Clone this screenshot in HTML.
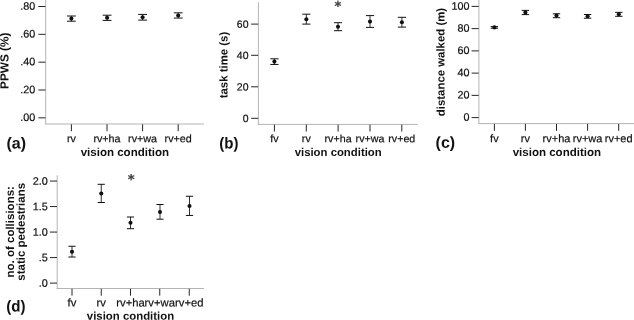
<!DOCTYPE html>
<html lang="en"><head><meta charset="utf-8"><title>vision condition plots</title>
<style>
html,body{margin:0;padding:0;background:#fff;}
body{width:634px;height:320px;overflow:hidden;}
svg{display:block;font-family:"Liberation Sans",sans-serif;text-rendering:geometricPrecision;}
</style></head><body>
<svg width="634" height="320" viewBox="0 0 634 320">
<rect x="0" y="0" width="634" height="320" fill="#fff"/>
<line x1="45.7" y1="0" x2="45.7" y2="124.5" stroke="#b4b4b4" stroke-width="1"/>
<line x1="45.2" y1="124" x2="203.9" y2="124" stroke="#b4b4b4" stroke-width="1"/>
<line x1="38.4" y1="6.5" x2="45.5" y2="6.5" stroke="#262626" stroke-width="1"/>
<text x="35.3" y="9.65" font-size="10.8" text-anchor="end" fill="#111" stroke="#111" stroke-width="0.2" transform="rotate(0.04 35.3 9.65)">.80</text>
<line x1="38.4" y1="34.34" x2="45.5" y2="34.34" stroke="#262626" stroke-width="1"/>
<text x="35.3" y="37.49" font-size="10.8" text-anchor="end" fill="#111" stroke="#111" stroke-width="0.2" transform="rotate(0.04 35.3 37.49)">.60</text>
<line x1="38.4" y1="62.18" x2="45.5" y2="62.18" stroke="#262626" stroke-width="1"/>
<text x="35.3" y="65.33" font-size="10.8" text-anchor="end" fill="#111" stroke="#111" stroke-width="0.2" transform="rotate(0.04 35.3 65.33)">.40</text>
<line x1="38.4" y1="90" x2="45.5" y2="90" stroke="#262626" stroke-width="1"/>
<text x="35.3" y="93.15" font-size="10.8" text-anchor="end" fill="#111" stroke="#111" stroke-width="0.2" transform="rotate(0.04 35.3 93.15)">.20</text>
<line x1="38.4" y1="117.85" x2="45.5" y2="117.85" stroke="#262626" stroke-width="1"/>
<text x="35.3" y="121" font-size="10.8" text-anchor="end" fill="#111" stroke="#111" stroke-width="0.2" transform="rotate(0.04 35.3 121)">.00</text>
<line x1="71.4" y1="124.3" x2="71.4" y2="131.2" stroke="#262626" stroke-width="1"/>
<text x="71.4" y="142.35" font-size="10.75" text-anchor="middle" fill="#111" stroke="#111" stroke-width="0.2" transform="rotate(0.04 71.4 142.35)">rv</text>
<line x1="107" y1="124.3" x2="107" y2="131.2" stroke="#262626" stroke-width="1"/>
<text x="107" y="142.35" font-size="10.75" text-anchor="middle" fill="#111" stroke="#111" stroke-width="0.2" transform="rotate(0.04 107 142.35)">rv+ha</text>
<line x1="142.6" y1="124.3" x2="142.6" y2="131.2" stroke="#262626" stroke-width="1"/>
<text x="142.6" y="142.35" font-size="10.75" text-anchor="middle" fill="#111" stroke="#111" stroke-width="0.2" transform="rotate(0.04 142.6 142.35)">rv+wa</text>
<line x1="178.2" y1="124.3" x2="178.2" y2="131.2" stroke="#262626" stroke-width="1"/>
<text x="178.2" y="142.35" font-size="10.75" text-anchor="middle" fill="#111" stroke="#111" stroke-width="0.2" transform="rotate(0.04 178.2 142.35)">rv+ed</text>
<text x="124.9" y="156.05" font-size="11.55" text-anchor="middle" fill="#111" font-weight="bold" transform="rotate(0.04 124.9 156.05)">vision condition</text>
<text x="8.4" y="60.8" font-size="11.8" text-anchor="middle" fill="#111" font-weight="bold" transform="rotate(-90.04 8.4 60.8)">PPWS (%)</text>
<text x="6.5" y="148.5" font-size="16" text-anchor="start" fill="#111" font-weight="bold" transform="rotate(0.04 6.5 148.5)">(a)</text>
<line x1="71.4" y1="16" x2="71.4" y2="21.2" stroke="#1a1a1a" stroke-width="0.9"/>
<line x1="67" y1="16" x2="75.8" y2="16" stroke="#111" stroke-width="1"/>
<line x1="67" y1="21.2" x2="75.8" y2="21.2" stroke="#111" stroke-width="1"/>
<circle cx="71.4" cy="18.6" r="2.05" fill="#111"/>
<line x1="107.1" y1="15.2" x2="107.1" y2="20.4" stroke="#1a1a1a" stroke-width="0.9"/>
<line x1="102.7" y1="15.2" x2="111.5" y2="15.2" stroke="#111" stroke-width="1"/>
<line x1="102.7" y1="20.4" x2="111.5" y2="20.4" stroke="#111" stroke-width="1"/>
<circle cx="107.1" cy="17.8" r="2.05" fill="#111"/>
<line x1="142.6" y1="14.4" x2="142.6" y2="20.1" stroke="#1a1a1a" stroke-width="0.9"/>
<line x1="138.2" y1="14.4" x2="147" y2="14.4" stroke="#111" stroke-width="1"/>
<line x1="138.2" y1="20.1" x2="147" y2="20.1" stroke="#111" stroke-width="1"/>
<circle cx="142.6" cy="17.2" r="2.05" fill="#111"/>
<line x1="178.2" y1="12.85" x2="178.2" y2="18.05" stroke="#1a1a1a" stroke-width="0.9"/>
<line x1="173.8" y1="12.85" x2="182.6" y2="12.85" stroke="#111" stroke-width="1"/>
<line x1="173.8" y1="18.05" x2="182.6" y2="18.05" stroke="#111" stroke-width="1"/>
<circle cx="178.2" cy="15.45" r="2.05" fill="#111"/>
<line x1="258.4" y1="2.2" x2="258.4" y2="124.9" stroke="#b4b4b4" stroke-width="1"/>
<line x1="257.9" y1="124.4" x2="417.8" y2="124.4" stroke="#b4b4b4" stroke-width="1"/>
<line x1="251.1" y1="24.1" x2="258.2" y2="24.1" stroke="#262626" stroke-width="1"/>
<text x="248.5" y="27.8" font-size="10.5" text-anchor="end" fill="#111" stroke="#111" stroke-width="0.2" transform="rotate(0.04 248.5 27.8)">60</text>
<line x1="251.1" y1="55.3" x2="258.2" y2="55.3" stroke="#262626" stroke-width="1"/>
<text x="248.5" y="59" font-size="10.5" text-anchor="end" fill="#111" stroke="#111" stroke-width="0.2" transform="rotate(0.04 248.5 59)">40</text>
<line x1="251.1" y1="86.8" x2="258.2" y2="86.8" stroke="#262626" stroke-width="1"/>
<text x="248.5" y="90.5" font-size="10.5" text-anchor="end" fill="#111" stroke="#111" stroke-width="0.2" transform="rotate(0.04 248.5 90.5)">20</text>
<line x1="251.1" y1="118.3" x2="258.2" y2="118.3" stroke="#262626" stroke-width="1"/>
<text x="248.5" y="122" font-size="10.5" text-anchor="end" fill="#111" stroke="#111" stroke-width="0.2" transform="rotate(0.04 248.5 122)">0</text>
<line x1="274.4" y1="124.7" x2="274.4" y2="131.6" stroke="#262626" stroke-width="1"/>
<text x="274.4" y="142.35" font-size="10.7" text-anchor="middle" fill="#111" stroke="#111" stroke-width="0.2" transform="rotate(0.04 274.4 142.35)">fv</text>
<line x1="306.3" y1="124.7" x2="306.3" y2="131.6" stroke="#262626" stroke-width="1"/>
<text x="306.3" y="142.35" font-size="10.7" text-anchor="middle" fill="#111" stroke="#111" stroke-width="0.2" transform="rotate(0.04 306.3 142.35)">rv</text>
<line x1="338.1" y1="124.7" x2="338.1" y2="131.6" stroke="#262626" stroke-width="1"/>
<text x="338.1" y="142.35" font-size="10.7" text-anchor="middle" fill="#111" stroke="#111" stroke-width="0.2" transform="rotate(0.04 338.1 142.35)">rv+ha</text>
<line x1="370" y1="124.7" x2="370" y2="131.6" stroke="#262626" stroke-width="1"/>
<text x="370" y="142.35" font-size="10.7" text-anchor="middle" fill="#111" stroke="#111" stroke-width="0.2" transform="rotate(0.04 370 142.35)">rv+wa</text>
<line x1="401.8" y1="124.7" x2="401.8" y2="131.6" stroke="#262626" stroke-width="1"/>
<text x="401.8" y="142.35" font-size="10.7" text-anchor="middle" fill="#111" stroke="#111" stroke-width="0.2" transform="rotate(0.04 401.8 142.35)">rv+ed</text>
<text x="338.2" y="156.1" font-size="11.35" text-anchor="middle" fill="#111" font-weight="bold" transform="rotate(0.04 338.2 156.1)">vision condition</text>
<text x="227.4" y="65.05" font-size="11.4" text-anchor="middle" fill="#111" font-weight="bold" transform="rotate(-90.04 227.4 65.05)">task time (s)</text>
<text x="219.3" y="148.4" font-size="16" text-anchor="start" fill="#111" font-weight="bold" textLength="19.2" lengthAdjust="spacingAndGlyphs" transform="rotate(0.04 219.3 148.4)">(b)</text>
<line x1="274.4" y1="58.8" x2="274.4" y2="64.45" stroke="#1a1a1a" stroke-width="0.9"/>
<line x1="270.3" y1="58.8" x2="278.5" y2="58.8" stroke="#111" stroke-width="1"/>
<line x1="270.3" y1="64.45" x2="278.5" y2="64.45" stroke="#111" stroke-width="1"/>
<circle cx="274.4" cy="61.6" r="2.05" fill="#111"/>
<line x1="306.35" y1="14.2" x2="306.35" y2="24.1" stroke="#1a1a1a" stroke-width="0.9"/>
<line x1="302.25" y1="14.2" x2="310.45" y2="14.2" stroke="#111" stroke-width="1"/>
<line x1="302.25" y1="24.1" x2="310.45" y2="24.1" stroke="#111" stroke-width="1"/>
<circle cx="306.35" cy="19.25" r="2.05" fill="#111"/>
<line x1="338" y1="22.7" x2="338" y2="30.7" stroke="#1a1a1a" stroke-width="0.9"/>
<line x1="333.9" y1="22.7" x2="342.1" y2="22.7" stroke="#111" stroke-width="1"/>
<line x1="333.9" y1="30.7" x2="342.1" y2="30.7" stroke="#111" stroke-width="1"/>
<circle cx="338.0" cy="26.7" r="2.05" fill="#111"/>
<line x1="370" y1="15.6" x2="370" y2="27.4" stroke="#1a1a1a" stroke-width="0.9"/>
<line x1="365.9" y1="15.6" x2="374.1" y2="15.6" stroke="#111" stroke-width="1"/>
<line x1="365.9" y1="27.4" x2="374.1" y2="27.4" stroke="#111" stroke-width="1"/>
<circle cx="370" cy="21.6" r="2.05" fill="#111"/>
<line x1="401.9" y1="17.3" x2="401.9" y2="27.1" stroke="#1a1a1a" stroke-width="0.9"/>
<line x1="397.8" y1="17.3" x2="406" y2="17.3" stroke="#111" stroke-width="1"/>
<line x1="397.8" y1="27.1" x2="406" y2="27.1" stroke="#111" stroke-width="1"/>
<circle cx="401.9" cy="22.3" r="2.05" fill="#111"/>
<text x="337.9" y="10.5" font-size="13" text-anchor="middle" fill="#444" stroke="#444" stroke-width="0.3" font-family="DejaVu Sans, sans-serif" font-weight="bold" transform="rotate(0.04 337.9 10.5)">*</text>
<line x1="478.9" y1="0" x2="478.9" y2="124.1" stroke="#b4b4b4" stroke-width="1"/>
<line x1="478.4" y1="123.6" x2="634" y2="123.6" stroke="#b4b4b4" stroke-width="1"/>
<line x1="471.6" y1="6.4" x2="478.7" y2="6.4" stroke="#262626" stroke-width="1"/>
<text x="469.6" y="9.65" font-size="10.8" text-anchor="end" fill="#111" stroke="#111" stroke-width="0.2" transform="rotate(0.04 469.6 9.65)">100</text>
<line x1="471.6" y1="28.64" x2="478.7" y2="28.64" stroke="#262626" stroke-width="1"/>
<text x="469.6" y="31.89" font-size="10.8" text-anchor="end" fill="#111" stroke="#111" stroke-width="0.2" transform="rotate(0.04 469.6 31.89)">80</text>
<line x1="471.6" y1="50.88" x2="478.7" y2="50.88" stroke="#262626" stroke-width="1"/>
<text x="469.6" y="54.13" font-size="10.8" text-anchor="end" fill="#111" stroke="#111" stroke-width="0.2" transform="rotate(0.04 469.6 54.13)">60</text>
<line x1="471.6" y1="73.12" x2="478.7" y2="73.12" stroke="#262626" stroke-width="1"/>
<text x="469.6" y="76.37" font-size="10.8" text-anchor="end" fill="#111" stroke="#111" stroke-width="0.2" transform="rotate(0.04 469.6 76.37)">40</text>
<line x1="471.6" y1="95.36" x2="478.7" y2="95.36" stroke="#262626" stroke-width="1"/>
<text x="469.6" y="98.61" font-size="10.8" text-anchor="end" fill="#111" stroke="#111" stroke-width="0.2" transform="rotate(0.04 469.6 98.61)">20</text>
<line x1="471.6" y1="117.6" x2="478.7" y2="117.6" stroke="#262626" stroke-width="1"/>
<text x="469.6" y="120.85" font-size="10.8" text-anchor="end" fill="#111" stroke="#111" stroke-width="0.2" transform="rotate(0.04 469.6 120.85)">0</text>
<line x1="494.4" y1="123.9" x2="494.4" y2="130.8" stroke="#262626" stroke-width="1"/>
<text x="494.4" y="142.35" font-size="11.0" text-anchor="middle" fill="#111" stroke="#111" stroke-width="0.2" transform="rotate(0.04 494.4 142.35)">fv</text>
<line x1="525.4" y1="123.9" x2="525.4" y2="130.8" stroke="#262626" stroke-width="1"/>
<text x="525.4" y="142.35" font-size="11.0" text-anchor="middle" fill="#111" stroke="#111" stroke-width="0.2" transform="rotate(0.04 525.4 142.35)">rv</text>
<line x1="556.5" y1="123.9" x2="556.5" y2="130.8" stroke="#262626" stroke-width="1"/>
<text x="556.5" y="142.35" font-size="11.0" text-anchor="middle" fill="#111" stroke="#111" stroke-width="0.2" transform="rotate(0.04 556.5 142.35)">rv+ha</text>
<line x1="587.6" y1="123.9" x2="587.6" y2="130.8" stroke="#262626" stroke-width="1"/>
<text x="587.6" y="142.35" font-size="11.0" text-anchor="middle" fill="#111" stroke="#111" stroke-width="0.2" transform="rotate(0.04 587.6 142.35)">rv+wa</text>
<line x1="618.7" y1="123.9" x2="618.7" y2="130.8" stroke="#262626" stroke-width="1"/>
<text x="618.7" y="142.35" font-size="11.0" text-anchor="middle" fill="#111" stroke="#111" stroke-width="0.2" transform="rotate(0.04 618.7 142.35)">rv+ed</text>
<text x="556.9" y="156.1" font-size="11.55" text-anchor="middle" fill="#111" font-weight="bold" transform="rotate(0.04 556.9 156.1)">vision condition</text>
<text x="444.6" y="62" font-size="11.4" text-anchor="middle" fill="#111" font-weight="bold" transform="rotate(-90.04 444.6 62)">distance walked (m)</text>
<text x="435.6" y="147.7" font-size="16" text-anchor="start" fill="#111" font-weight="bold" transform="rotate(0.04 435.6 147.7)">(c)</text>
<line x1="494.4" y1="26.6" x2="494.4" y2="28.2" stroke="#1a1a1a" stroke-width="0.9"/>
<line x1="490.7" y1="26.6" x2="498.1" y2="26.6" stroke="#111" stroke-width="1"/>
<line x1="490.7" y1="28.2" x2="498.1" y2="28.2" stroke="#111" stroke-width="1"/>
<circle cx="494.4" cy="27.4" r="2.05" fill="#111"/>
<line x1="525.4" y1="10.4" x2="525.4" y2="14.6" stroke="#1a1a1a" stroke-width="0.9"/>
<line x1="521.7" y1="10.4" x2="529.1" y2="10.4" stroke="#111" stroke-width="1"/>
<line x1="521.7" y1="14.6" x2="529.1" y2="14.6" stroke="#111" stroke-width="1"/>
<circle cx="525.4" cy="12.5" r="2.05" fill="#111"/>
<line x1="556.5" y1="13.8" x2="556.5" y2="17.7" stroke="#1a1a1a" stroke-width="0.9"/>
<line x1="552.8" y1="13.8" x2="560.2" y2="13.8" stroke="#111" stroke-width="1"/>
<line x1="552.8" y1="17.7" x2="560.2" y2="17.7" stroke="#111" stroke-width="1"/>
<circle cx="556.5" cy="15.6" r="2.05" fill="#111"/>
<line x1="587.6" y1="14.5" x2="587.6" y2="18.2" stroke="#1a1a1a" stroke-width="0.9"/>
<line x1="583.9" y1="14.5" x2="591.3" y2="14.5" stroke="#111" stroke-width="1"/>
<line x1="583.9" y1="18.2" x2="591.3" y2="18.2" stroke="#111" stroke-width="1"/>
<circle cx="587.6" cy="16.3" r="2.05" fill="#111"/>
<line x1="618.8" y1="12.35" x2="618.8" y2="16.3" stroke="#1a1a1a" stroke-width="0.9"/>
<line x1="615.1" y1="12.35" x2="622.5" y2="12.35" stroke="#111" stroke-width="1"/>
<line x1="615.1" y1="16.3" x2="622.5" y2="16.3" stroke="#111" stroke-width="1"/>
<circle cx="618.8" cy="14.2" r="2.05" fill="#111"/>
<line x1="57.2" y1="175.3" x2="57.2" y2="289" stroke="#b4b4b4" stroke-width="1"/>
<line x1="56.7" y1="288.5" x2="203.9" y2="288.5" stroke="#b4b4b4" stroke-width="1"/>
<line x1="49.9" y1="181.05" x2="57" y2="181.05" stroke="#262626" stroke-width="1"/>
<text x="47.9" y="184.75" font-size="10.85" text-anchor="end" fill="#111" stroke="#111" stroke-width="0.2" transform="rotate(0.04 47.9 184.75)">2.0</text>
<line x1="49.9" y1="206.56" x2="57" y2="206.56" stroke="#262626" stroke-width="1"/>
<text x="47.9" y="210.26" font-size="10.85" text-anchor="end" fill="#111" stroke="#111" stroke-width="0.2" transform="rotate(0.04 47.9 210.26)">1.5</text>
<line x1="49.9" y1="232.07" x2="57" y2="232.07" stroke="#262626" stroke-width="1"/>
<text x="47.9" y="235.77" font-size="10.85" text-anchor="end" fill="#111" stroke="#111" stroke-width="0.2" transform="rotate(0.04 47.9 235.77)">1.0</text>
<line x1="49.9" y1="257.59" x2="57" y2="257.59" stroke="#262626" stroke-width="1"/>
<text x="47.9" y="261.29" font-size="10.85" text-anchor="end" fill="#111" stroke="#111" stroke-width="0.2" transform="rotate(0.04 47.9 261.29)">.5</text>
<line x1="49.9" y1="283.1" x2="57" y2="283.1" stroke="#262626" stroke-width="1"/>
<text x="47.9" y="286.8" font-size="10.85" text-anchor="end" fill="#111" stroke="#111" stroke-width="0.2" transform="rotate(0.04 47.9 286.8)">.0</text>
<line x1="72" y1="288.8" x2="72" y2="295.7" stroke="#262626" stroke-width="1"/>
<text x="72" y="306.6" font-size="11.25" text-anchor="middle" fill="#111" stroke="#111" stroke-width="0.2" transform="rotate(0.04 72 306.6)">fv</text>
<line x1="101.25" y1="288.8" x2="101.25" y2="295.7" stroke="#262626" stroke-width="1"/>
<text x="101.25" y="306.6" font-size="11.25" text-anchor="middle" fill="#111" stroke="#111" stroke-width="0.2" transform="rotate(0.04 101.25 306.6)">rv</text>
<line x1="130.5" y1="288.8" x2="130.5" y2="295.7" stroke="#262626" stroke-width="1"/>
<text x="130.5" y="306.6" font-size="11.25" text-anchor="middle" fill="#111" stroke="#111" stroke-width="0.2" transform="rotate(0.04 130.5 306.6)">rv+ha</text>
<line x1="159.75" y1="288.8" x2="159.75" y2="295.7" stroke="#262626" stroke-width="1"/>
<text x="159.75" y="306.6" font-size="11.25" text-anchor="middle" fill="#111" stroke="#111" stroke-width="0.2" transform="rotate(0.04 159.75 306.6)">rv+wa</text>
<line x1="189.25" y1="288.8" x2="189.25" y2="295.7" stroke="#262626" stroke-width="1"/>
<text x="189.25" y="306.6" font-size="11.25" text-anchor="middle" fill="#111" stroke="#111" stroke-width="0.2" transform="rotate(0.04 189.25 306.6)">rv+ed</text>
<text x="130.5" y="319.8" font-size="11.4" text-anchor="middle" fill="#111" font-weight="bold" transform="rotate(0.04 130.5 319.8)">vision condition</text>
<text x="13.9" y="231.8" font-size="11.5" text-anchor="middle" fill="#111" font-weight="bold" transform="rotate(-90.04 13.9 231.8)">no. of collisions:</text>
<text x="24.8" y="231.8" font-size="11.5" text-anchor="middle" fill="#111" font-weight="bold" transform="rotate(-90.04 24.8 231.8)">static pedestrians</text>
<text x="6.3" y="311.6" font-size="16" text-anchor="start" fill="#111" font-weight="bold" textLength="19.3" lengthAdjust="spacingAndGlyphs" transform="rotate(0.04 6.3 311.6)">(d)</text>
<line x1="72" y1="246.25" x2="72" y2="257" stroke="#1a1a1a" stroke-width="0.9"/>
<line x1="68.4" y1="246.25" x2="75.6" y2="246.25" stroke="#111" stroke-width="1"/>
<line x1="68.4" y1="257" x2="75.6" y2="257" stroke="#111" stroke-width="1"/>
<circle cx="72" cy="251.75" r="2.05" fill="#111"/>
<line x1="101.25" y1="184.3" x2="101.25" y2="202.5" stroke="#1a1a1a" stroke-width="0.9"/>
<line x1="97.65" y1="184.3" x2="104.85" y2="184.3" stroke="#111" stroke-width="1"/>
<line x1="97.65" y1="202.5" x2="104.85" y2="202.5" stroke="#111" stroke-width="1"/>
<circle cx="101.25" cy="193.5" r="2.05" fill="#111"/>
<line x1="130.5" y1="217" x2="130.5" y2="228.7" stroke="#1a1a1a" stroke-width="0.9"/>
<line x1="126.9" y1="217" x2="134.1" y2="217" stroke="#111" stroke-width="1"/>
<line x1="126.9" y1="228.7" x2="134.1" y2="228.7" stroke="#111" stroke-width="1"/>
<circle cx="130.5" cy="222.8" r="2.05" fill="#111"/>
<line x1="160" y1="204.5" x2="160" y2="219.2" stroke="#1a1a1a" stroke-width="0.9"/>
<line x1="156.4" y1="204.5" x2="163.6" y2="204.5" stroke="#111" stroke-width="1"/>
<line x1="156.4" y1="219.2" x2="163.6" y2="219.2" stroke="#111" stroke-width="1"/>
<circle cx="160.0" cy="212.05" r="2.05" fill="#111"/>
<line x1="189.5" y1="196.25" x2="189.5" y2="215.45" stroke="#1a1a1a" stroke-width="0.9"/>
<line x1="185.9" y1="196.25" x2="193.1" y2="196.25" stroke="#111" stroke-width="1"/>
<line x1="185.9" y1="215.45" x2="193.1" y2="215.45" stroke="#111" stroke-width="1"/>
<circle cx="189.5" cy="206.05" r="2.05" fill="#111"/>
<text x="131.1" y="183.75" font-size="13" text-anchor="middle" fill="#444" stroke="#444" stroke-width="0.3" font-family="DejaVu Sans, sans-serif" font-weight="bold" transform="rotate(0.04 131.1 183.75)">*</text>
</svg>
</body></html>
